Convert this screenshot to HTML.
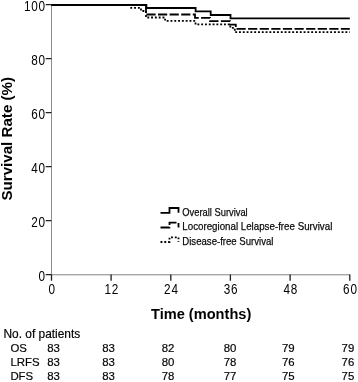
<!DOCTYPE html>
<html><head><meta charset="utf-8">
<style>
html,body{margin:0;padding:0;background:#fff;width:358px;height:382px;overflow:hidden}
svg{display:block}
text{font-family:"Liberation Sans",Arial,sans-serif;fill:#000}
.tk{font-size:14px;fill:#4d4d4d}
.lg{font-size:11.5px;fill:#1a1a1a;stroke:#1a1a1a;stroke-width:0.25px}
.tb{font-size:11.4px;fill:#111;stroke:#111;stroke-width:0.2px}
.ttl{font-size:14.5px;font-weight:bold}
</style></head>
<body>
<svg width="358" height="382" viewBox="0 0 358 382">
<rect width="358" height="382" fill="#fff"/>
<!-- axes -->
<rect x="51" y="4" width="1" height="271" fill="#8c8c8c"/>
<rect x="51" y="274" width="299" height="1.4" fill="#a6a6a6"/>
<g stroke="#202020" stroke-width="1.3" fill="none">
<path d="M45.7,4.6H51.5M45.7,58.6H51.5M45.7,112.7H51.5M45.7,166.7H51.5M45.7,220.7H51.5M45.7,274.7H51.5"/>
<path d="M51.5,274.5V280.7M111.1,274.5V280.7M170.8,274.5V280.7M230.4,274.5V280.7M290.1,274.5V280.7M349.8,274.5V280.7"/>
</g>
<!-- y labels -->
<g class="tk" text-anchor="end" letter-spacing="0.9">
<text transform="translate(45.8,10.9) scale(0.84,1)">100</text>
<text transform="translate(45.8,64.9) scale(0.84,1)">80</text>
<text transform="translate(45.8,119.0) scale(0.84,1)">60</text>
<text transform="translate(45.8,173.0) scale(0.84,1)">40</text>
<text transform="translate(45.8,227.0) scale(0.84,1)">20</text>
<text transform="translate(45.8,281.0) scale(0.84,1)">0</text>
</g>
<!-- x labels -->
<g class="tk" text-anchor="middle" letter-spacing="0.9">
<text transform="translate(52.1,294) scale(0.84,1)">0</text>
<text transform="translate(111.7,294) scale(0.84,1)">12</text>
<text transform="translate(171.4,294) scale(0.84,1)">24</text>
<text transform="translate(231.0,294) scale(0.84,1)">36</text>
<text transform="translate(290.7,294) scale(0.84,1)">48</text>
<text transform="translate(350.4,294) scale(0.84,1)">60</text>
</g>
<!-- curves -->
<g fill="none" stroke="#000" stroke-width="1.8">
<path id="dfs" stroke-dasharray="1.9 1.9" stroke-dashoffset="1.9" d="M51.5,5H130.2V7.9H141V11H146V17.5H165.1V20.9H195.5V24.4H230.3V27.9H234.8V32.2H349.8"/>
<path id="lrfs" stroke-dasharray="9.2 2.4" d="M51.5,5H146V14.5H195V17.8H210V21.2H230V24.7H235.8V28.8H349.8"/>
<path id="os" d="M51.5,5H146.4V8H195.6V11.4H210.7V15H230.5V18.4H349.8"/>
</g>
<!-- legend -->
<g fill="none" stroke="#000" stroke-width="1.8">
<path d="M160.5,212.8H169.5V208H178.5V212.8"/>
<path stroke-dasharray="9.2 2.4" d="M160.5,227.5H169.5V222.7H178.5V227.5"/>
<path stroke-dasharray="1.9 1.9" d="M160.5,242H169.5V237.3H178.5V242"/>
</g>
<g class="lg">
<text x="182.3" y="215.5" textLength="65.4" lengthAdjust="spacingAndGlyphs">Overall Survival</text>
<text x="182.3" y="230" textLength="150" lengthAdjust="spacingAndGlyphs">Locoregional Lelapse-free Survival</text>
<text x="182.3" y="244.5" textLength="91.2" lengthAdjust="spacingAndGlyphs">Disease-free Survival</text>
</g>
<!-- axis titles -->
<text class="ttl" x="151" y="319.2" textLength="100.3" lengthAdjust="spacingAndGlyphs">Time (months)</text>
<text class="ttl" style="font-size:15px" transform="translate(12.3,200.5) rotate(-90)" x="0" y="0" textLength="123.5" lengthAdjust="spacingAndGlyphs">Survival Rate (%)</text>
<!-- table -->
<g class="tb">
<text x="3.5" y="338.2" style="font-size:11.9px">No. of patients</text>
<text x="10.4" y="351.8">OS</text>
<text x="10.4" y="365.8">LRFS</text>
<text x="10.4" y="379.8">DFS</text>
</g>
<g class="tb" text-anchor="middle">
<text x="53.5" y="351.8">83</text><text x="108.5" y="351.8">83</text><text x="168" y="351.8">82</text><text x="230" y="351.8">80</text><text x="288.3" y="351.8">79</text><text x="347.9" y="351.8">79</text>
<text x="53.5" y="365.8">83</text><text x="108.5" y="365.8">83</text><text x="168" y="365.8">80</text><text x="230" y="365.8">78</text><text x="288.3" y="365.8">76</text><text x="347.9" y="365.8">76</text>
<text x="53.5" y="379.8">83</text><text x="108.5" y="379.8">83</text><text x="168" y="379.8">78</text><text x="230" y="379.8">77</text><text x="288.3" y="379.8">75</text><text x="347.9" y="379.8">75</text>
</g>
</svg>
</body></html>
